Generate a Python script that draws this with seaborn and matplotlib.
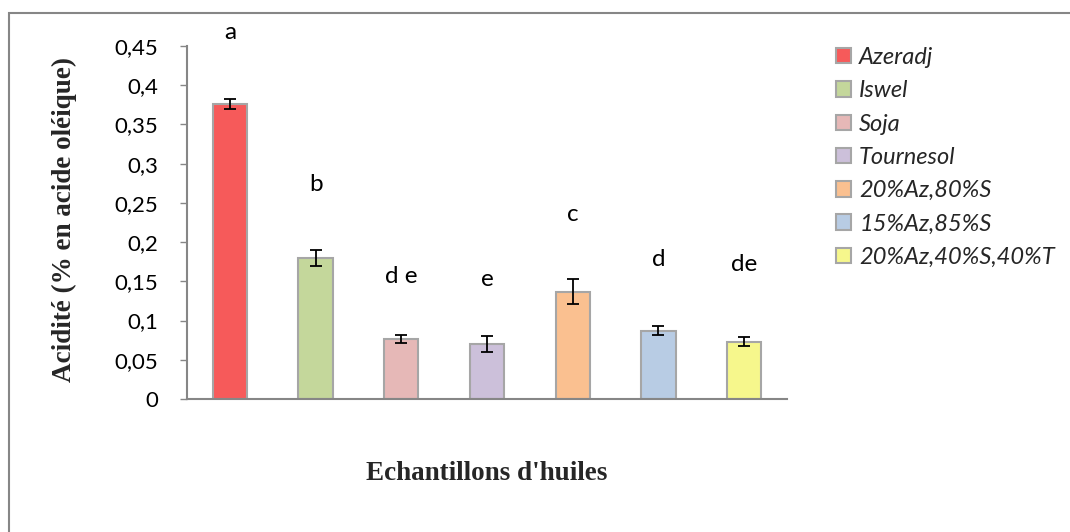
import matplotlib
matplotlib.use("Agg")
import matplotlib.pyplot as plt
import seaborn as sns
import pandas as pd
from matplotlib.patches import Rectangle
from matplotlib.ticker import FuncFormatter, MultipleLocator

categories = ["Azeradj", "Iswel", "Soja", "Tournesol", "20%Az,80%S", "15%Az,85%S", "20%Az,40%S,40%T"]
values = [0.376, 0.180, 0.077, 0.070, 0.137, 0.087, 0.073]
errors = [0.006, 0.010, 0.005, 0.010, 0.016, 0.006, 0.006]
letters = ["a", "b", "d e", "e", "c", "d", "de"]
letter_y = [0.467, 0.273, 0.156, 0.152, 0.235, 0.178, 0.171]
colors = ["#F65A5A", "#C4D79B", "#E6B8B7", "#CCC0DA", "#FAC090", "#B8CCE4", "#F6F78C"]

sns.set_theme(style="white")
plt.rcParams["font.family"] = ["Lato", "DejaVu Sans"]

fig = plt.figure(figsize=(10.7, 5.32), dpi=100)
ax = fig.add_axes([187/1070, 1-399/532, 600/1070, 353/532])

df = pd.DataFrame({"cat": categories, "val": values})
sns.barplot(data=df, x="cat", y="val", hue="cat", palette=colors, width=0.4, saturation=1,
            dodge=False, legend=False, edgecolor="#A6A6A6", linewidth=1.5, ax=ax,
            order=categories, hue_order=categories)
ax.errorbar(range(len(categories)), values, yerr=errors, fmt="none", ecolor="black",
            elinewidth=1.3, capsize=4, capthick=1.3)
for i, (t, y) in enumerate(zip(letters, letter_y)):
    ax.text(i, y, t, ha="center", va="center", fontsize=17.5, color="black", clip_on=False)

ax.set_ylim(0, 0.45)
ax.set_xlim(-0.5, len(categories)-0.5)
ax.yaxis.set_major_locator(MultipleLocator(0.05))
ax.yaxis.set_major_formatter(FuncFormatter(lambda v, p: ("%g" % round(v, 2)).replace(".", ",")))
ax.set_xticks([])
ax.set_xlabel("")
ax.set_ylabel("")
for s in ["top", "right"]:
    ax.spines[s].set_visible(False)
for s in ["left", "bottom"]:
    ax.spines[s].set_color("#868686")
    ax.spines[s].set_linewidth(1.5)
ax.tick_params(axis="y", left=True, length=5, width=1, color="#868686", pad=16,
               labelsize=16, labelcolor="black")
ax.set_facecolor("white")

fig.text(487/1070, 1-473/532, "Echantillons d'huiles", ha="center", va="center",
         fontsize=19.5, fontweight="bold", family=["Liberation Serif"])
fig.text(64/1070, 1-220/532, "Acidité (% en acide oléique)", ha="center", va="center",
         rotation=90, fontsize=19.5, fontweight="bold", family=["Liberation Serif"])

handles = [Rectangle((0, 0), 1, 1, facecolor=c, edgecolor="#A6A6A6", linewidth=1.5) for c in colors]
leg = fig.legend(handles, categories, loc="upper left", bbox_to_anchor=(836/1070, 1-47/532),
                 frameon=False, fontsize=17, handlelength=0.63, handleheight=0.63,
                 handletextpad=0.35, labelspacing=0.52, borderaxespad=0, borderpad=0)
for t in leg.get_texts():
    t.set_fontstyle("italic")

fig.add_artist(Rectangle((9/1070, -0.1), 1.2, (1-13/532)+0.1, transform=fig.transFigure,
                         fill=False, edgecolor="#868686", linewidth=1.5))

fig.savefig("out.png", dpi=100, facecolor="white")
